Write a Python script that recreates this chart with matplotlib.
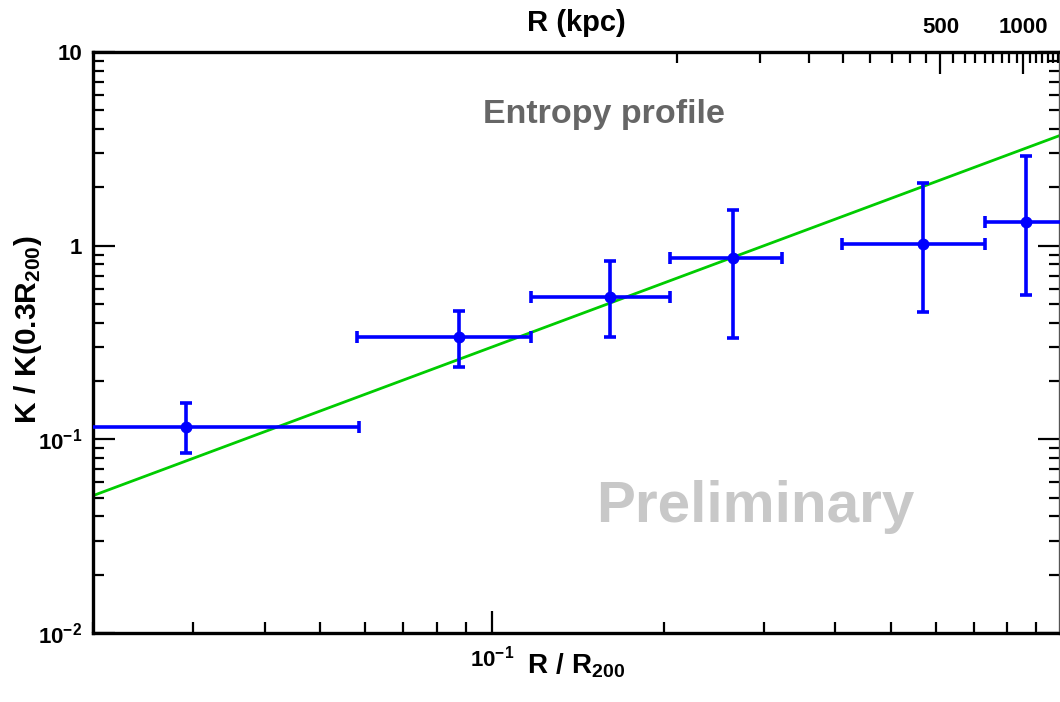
import numpy as np
import matplotlib
matplotlib.use("Agg")
import matplotlib.pyplot as plt
from matplotlib.ticker import FixedLocator, FuncFormatter, LogLocator, NullFormatter

# ---------------- data ----------------
r_over_r200 = [0.0291, 0.0877, 0.1614, 0.2642, 0.570, 0.863]
r_bin_lo = [0.015, 0.0581, 0.1173, 0.2048, 0.4105, 0.732]
r_bin_hi = [0.0586, 0.1173, 0.2048, 0.322, 0.732, 1.10]
k_ratio = [0.1162, 0.3378, 0.543, 0.864, 1.017, 1.33]
k_lo = [0.0853, 0.2365, 0.338, 0.334, 0.456, 0.556]
k_hi = [0.1546, 0.460, 0.834, 1.53, 2.10, 2.905]

baseline_r = [0.02, 0.988]
baseline_k = [0.0512, 3.70]

top_major_kpc = [500, 1000]
top_minor_step_kpc = 500 / 9.0

# ---------------- style ----------------
plt.rcParams["font.family"] = ["Liberation Sans", "DejaVu Sans"]
plt.rcParams["font.weight"] = "bold"
plt.rcParams["mathtext.fontset"] = "custom"
plt.rcParams["mathtext.rm"] = "Liberation Sans:bold"
plt.rcParams["mathtext.bf"] = "Liberation Sans:bold"
plt.rcParams["mathtext.it"] = "Liberation Sans:bold"

W, H = 1060, 702
fig = plt.figure(figsize=(W / 100, H / 100), dpi=100)
x0, x1, y0, y1 = 93, 1059.5, 52, 633
ax = fig.add_axes([x0 / W, 1 - y1 / H, (x1 - x0) / W, (y1 - y0) / H])

x = np.array(r_over_r200)
y = np.array(k_ratio)
xerr = [x - np.array(r_bin_lo), np.array(r_bin_hi) - x]
yerr = [y - np.array(k_lo), np.array(k_hi) - y]

ax.plot(baseline_r, baseline_k, color="#00cc00", lw=2.0, zorder=2)
ax.errorbar(x, y, xerr=xerr, yerr=yerr, fmt="o", color="#0000ff", ms=7.5,
            elinewidth=2.6, capsize=4, capthick=2.6, zorder=3)

ax.set_xscale("log")
ax.set_yscale("log")
ax.set_xlim(0.02, 0.988)
ax.set_ylim(0.01, 10)


def fmt_log(v, pos):
    e = int(round(np.log10(v)))
    if e == 0:
        return "1"
    if e == 1:
        return "10"
    return r"$\mathbf{10^{%d}}$" % e


ax.xaxis.set_major_locator(LogLocator(base=10, numticks=10))
ax.xaxis.set_major_formatter(FuncFormatter(fmt_log))
ax.xaxis.set_minor_formatter(NullFormatter())
ax.yaxis.set_major_locator(LogLocator(base=10, numticks=10))
ax.yaxis.set_major_formatter(FuncFormatter(fmt_log))
ax.yaxis.set_minor_formatter(NullFormatter())

ax.tick_params(which="both", direction="in", top=False, right=True,
               bottom=True, left=True, width=1.6, labelsize=16, colors="black")
ax.tick_params(which="major", length=16)
ax.tick_params(which="minor", length=8)
ax.tick_params(axis="y", pad=8)
ax.tick_params(axis="x", pad=9)

for sp in ax.spines.values():
    sp.set_linewidth(2.4)
ax.spines["right"].set_color("#555555")

ax.set_xlabel(r"$\mathbf{R\ /\ R_{200}}$", fontsize=20, va="baseline")
ax.xaxis.set_label_coords(0.5, -(673 - y1) / (y1 - y0))
ax.set_ylabel(r"$\mathbf{K\ /\ K(0.3R_{200})}$", fontsize=21.5, va="center")
ax.yaxis.set_label_coords((28 - x0) / (x1 - x0), (y1 - 330) / (y1 - y0))

# top axis in kpc
axt = ax.twiny()
axt.set_xscale("log")
axt.set_xlim(0.4216, 1351)
top_minor = [k * top_minor_step_kpc for k in range(1, 25) if k not in (9, 18)]
axt.xaxis.set_major_locator(FixedLocator(top_major_kpc))
axt.xaxis.set_minor_locator(FixedLocator(top_minor))
axt.xaxis.set_major_formatter(FuncFormatter(lambda v, p: "%d" % round(v)))
axt.xaxis.set_minor_formatter(NullFormatter())
axt.tick_params(which="both", direction="in", top=True, bottom=False,
                width=1.6, labelsize=16, pad=10)
axt.tick_params(which="major", length=16)
axt.tick_params(which="minor", length=8)
for sp in axt.spines.values():
    sp.set_visible(False)
axt.set_xlabel("R (kpc)", fontsize=21, fontweight="bold", va="baseline")
axt.xaxis.set_label_coords(0.5, 1 + (y0 - 31) / (y1 - y0))

ax.text((604 - x0) / (x1 - x0), (y1 - 123.5) / (y1 - y0), "Entropy profile",
        transform=ax.transAxes, ha="center", va="baseline", fontsize=24.5,
        fontweight="bold", color="#666666")
ax.text((755 - x0) / (x1 - x0), (y1 - 522) / (y1 - y0), "Preliminary",
        transform=ax.transAxes, ha="center", va="baseline", fontsize=42,
        fontweight="bold", color="#c8c8c8", zorder=1)

fig.savefig("out.png", dpi=100)
